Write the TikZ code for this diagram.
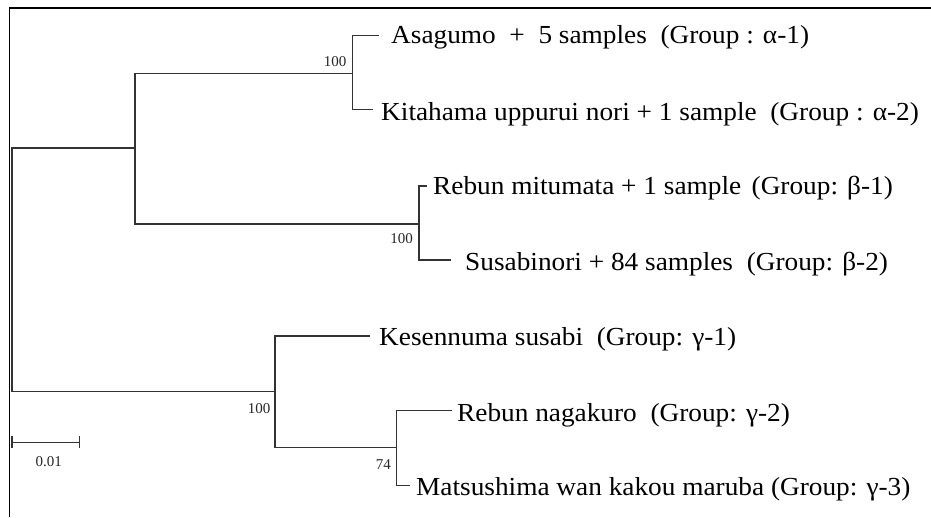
\documentclass[tikz,border=0pt]{standalone}
\usepackage{fontspec}
\setmainfont{Liberation Serif}
\newfontfamily\leaffont[FakeStretch=1.05]{Liberation Serif}
\begin{document}
\begin{tikzpicture}[x=1pt,y=-1pt,
  branch/.style={line width=1.1pt,color=black!80},
  leaflabel/.style={anchor=base west,inner sep=0pt,font=\leaffont\fontsize{26}{28}\selectfont},
  support/.style={anchor=base east,inner sep=0pt,font=\fontsize{15}{16}\selectfont,text=black!85},
  frameline/.style={line width=1.8pt,color=black}]
\useasboundingbox (0,0) rectangle (931,517);
\draw[frameline] (9.5,517) |- (931,8);
% internal nodes
\coordinate (root) at (12,270);
\coordinate (n1) at (135,148);
\coordinate (na) at (352.5,73.3);
\coordinate (nb) at (419,224);
\coordinate (ng) at (275,391.7);
\coordinate (nd) at (396.7,447.7);
% leaf ends
\coordinate (la1) at (379,35.5);
\coordinate (la2) at (373,109.5);
\coordinate (lb1) at (427,186);
\coordinate (lb2) at (451,260);
\coordinate (lg1) at (370,336);
\coordinate (lg2) at (452,410.7);
\coordinate (lg3) at (410,485.7);
% branches
\draw[branch] (root) |- (n1);
\draw[branch] (root) |- (ng);
\draw[branch] (n1) |- (na);
\draw[branch] (n1) |- (nb);
\draw[branch] (na) |- (la1);
\draw[branch] (na) |- (la2);
\draw[branch] (nb) |- (lb1);
\draw[branch] (nb) |- (lb2);
\draw[branch] (ng) |- (lg1);
\draw[branch] (ng) |- (nd);
\draw[branch] (nd) |- (lg2);
\draw[branch] (nd) |- (lg3);
% leaf labels
\node[leaflabel] (ta1) at (391,43) {Asagumo\ \ +\ \ 5 samples\ \ (Group : α-1)};
\node[leaflabel] (ta2) at (381,120) {Kitahama uppurui nori + 1 sample\ \ (Group : α-2)};
\node[leaflabel] (tb1) at (433,194) {Rebun mitumata + 1 sample\hspace{0.4em}(Group: β-1)};
\node[leaflabel] (tb2) at (465,270) {Susabinori + 84 samples\ \ (Group: β-2)};
\node[leaflabel] (tg1) at (379,345) {Kesennuma susabi\ \ (Group: γ-1)};
\node[leaflabel] (tg2) at (457,421.7) {Rebun nagakuro\ \ (Group: γ-2)};
\node[leaflabel] (tg3) at (416,495.7) {Matsushima wan kakou maruba (Group: γ-3)};
% support values
\node[support] (sa) at (346.5,66) {100};
\node[support] (sb) at (413,243) {100};
\node[support] (sg) at (270.5,413.3) {100};
\node[support] (sd) at (391,469.3) {74};
% scale bar
\coordinate (s0) at (12,442.3);
\coordinate (s1) at (79.3,442.3);
\draw[branch] (s0) -- (s1);
\draw[branch] ([yshift=6pt]s0) -- ([yshift=-6pt]s0);
\draw[branch] ([yshift=6pt]s1) -- ([yshift=-6pt]s1);
\node[anchor=base,inner sep=0pt,font=\fontsize{15}{16}\selectfont,text=black!85] (sl) at (48.7,466) {0.01};
\end{tikzpicture}
\end{document}
